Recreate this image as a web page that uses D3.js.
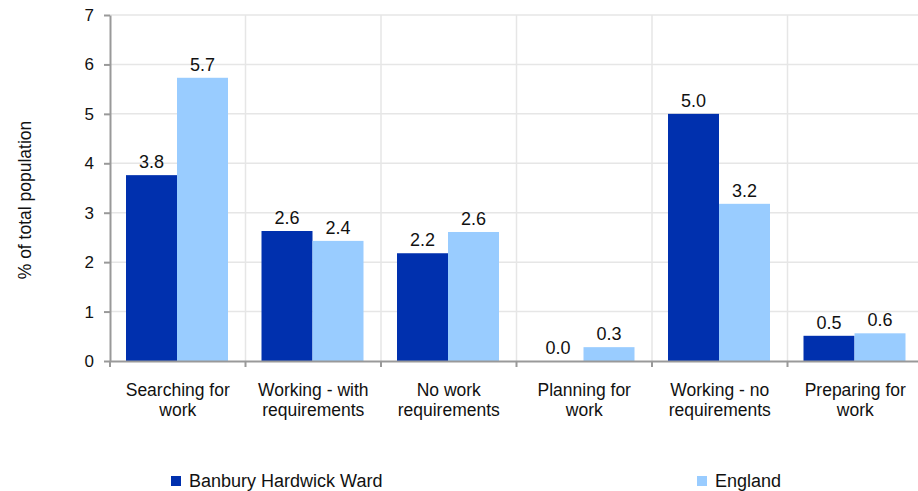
<!DOCTYPE html>
<html>
<head>
<meta charset="utf-8">
<script src="https://cdn.jsdelivr.net/npm/d3@7"></script>
<style>
  body { margin: 0; background: #fff; }
  text { font-family: "Liberation Sans", Arial, sans-serif; fill: #111; }
</style>
</head>
<body>
<svg id="chart"></svg>
<script>
const categories = [
    ["Searching for", "work"],
    ["Working - with", "requirements"],
    ["No work", "requirements"],
    ["Planning for", "work"],
    ["Working - no", "requirements"],
    ["Preparing for", "work"]
];
const seriesNames = ["Banbury Hardwick Ward", "England"];
const wardValues = [3.76, 2.63, 2.18, 0.0, 5.0, 0.51];
const englandValues = [5.73, 2.43, 2.61, 0.28, 3.18, 0.56];
const yTicks = [0, 1, 2, 3, 4, 5, 6, 7];
const colors = ["#0030ae", "#99ccff"];

let width = 918;
let height = 491;
let plotLeft = 110;
let plotRight = 923;
let plotTop = 15;
let plotBottom = 361;

let svg = d3.select("#chart").attr("width", width).attr("height", height);

const idx = d3.range(categories.length);

let xScale = d3.scaleBand()
    .domain(idx)
    .range([plotLeft, plotRight])
    .paddingInner(0)
    .paddingOuter(0);

let x1 = d3.scaleBand()
    .domain([0, 1])
    .range([16, xScale.bandwidth() - 17.5]);

let yScale = d3.scaleLinear()
    .domain([0, 7])
    .range([plotBottom, plotTop]);

// grid
svg.append("g")
    .selectAll("line")
    .data(yTicks.slice(1))
    .enter()
    .append("line")
    .attr("x1", plotLeft).attr("x2", width)
    .attr("y1", (d) => yScale(d)).attr("y2", (d) => yScale(d))
    .attr("stroke", "#e6e6e6").attr("stroke-width", 1.5);

svg.append("g")
    .selectAll("line")
    .data(idx.slice(1))
    .enter()
    .append("line")
    .attr("x1", (d) => xScale(d)).attr("x2", (d) => xScale(d))
    .attr("y1", plotTop).attr("y2", plotBottom)
    .attr("stroke", "#e6e6e6").attr("stroke-width", 1.5);

// bars
const rows = idx.map((i) => [wardValues[i], englandValues[i]]);

let groups = svg.append("g")
    .selectAll("g")
    .data(rows)
    .enter()
    .append("g")
    .attr("transform", (d, i) => "translate(" + xScale(i) + ",0)");

groups.selectAll("rect")
    .data((d) => d)
    .enter()
    .append("rect")
    .attr("x", (d, j) => x1(j))
    .attr("y", (d) => yScale(d))
    .attr("width", x1.bandwidth())
    .attr("height", (d) => plotBottom - yScale(d))
    .style("fill", (d, j) => colors[j]);

groups.selectAll("text")
    .data((d) => d)
    .enter()
    .append("text")
    .attr("x", (d, j) => x1(j) + x1.bandwidth() / 2)
    .attr("y", (d) => yScale(d) - 7)
    .attr("text-anchor", "middle")
    .style("font-size", "18px")
    .text((d) => d.toFixed(1));

// axes
let yAxis = d3.axisLeft(yScale).tickValues(yTicks).tickFormat(d3.format("d"))
    .tickSize(6).tickSizeOuter(0).tickPadding(10);
let yg = svg.append("g")
    .attr("transform", "translate(" + plotLeft + ",0)")
    .call(yAxis);
yg.select(".domain").attr("stroke", "#999").attr("stroke-width", 2);
yg.selectAll(".tick line").attr("stroke", "#999").attr("stroke-width", 2);
yg.selectAll(".tick text").style("font-size", "17px").attr("fill", "#111");

let xAxis = d3.axisBottom(xScale).tickValues([]).tickSizeOuter(0);
let xg = svg.append("g")
    .attr("transform", "translate(0," + plotBottom + ")")
    .call(xAxis);
xg.select(".domain").attr("stroke", "#999").attr("stroke-width", 2);

xg.selectAll("line.sep")
    .data(idx)
    .enter()
    .append("line")
    .attr("class", "sep")
    .attr("x1", (d) => xScale(d)).attr("x2", (d) => xScale(d))
    .attr("y1", 0).attr("y2", 6)
    .attr("stroke", "#999").attr("stroke-width", 2);

let labels = svg.append("g")
    .selectAll("text")
    .data(categories)
    .enter()
    .append("text")
    .attr("text-anchor", "middle")
    .attr("x", (d, i) => xScale(i) + xScale.bandwidth() / 2)
    .attr("y", 396)
    .style("font-size", "17.5px");

labels.selectAll("tspan")
    .data((d) => d)
    .enter()
    .append("tspan")
    .attr("x", function () { return d3.select(this.parentNode).attr("x"); })
    .attr("dy", (d, k) => k === 0 ? 0 : 19.5)
    .text((d) => d);

// y title
svg.append("text")
    .attr("transform", "translate(31,200) rotate(-90)")
    .attr("text-anchor", "middle")
    .style("font-size", "17.5px")
    .text("% of total population");

// legend
const legendX = [171, 697];
let legend = svg.append("g")
    .selectAll("g")
    .data(seriesNames)
    .enter()
    .append("g")
    .attr("transform", (d, i) => "translate(" + legendX[i] + ",476)");

legend.append("rect")
    .attr("width", 10).attr("height", 10)
    .style("fill", (d, i) => colors[i]);

legend.append("text")
    .attr("x", 18)
    .attr("y", 11)
    .style("font-size", "18px")
    .text((d) => d);
</script>
</body>
</html>
